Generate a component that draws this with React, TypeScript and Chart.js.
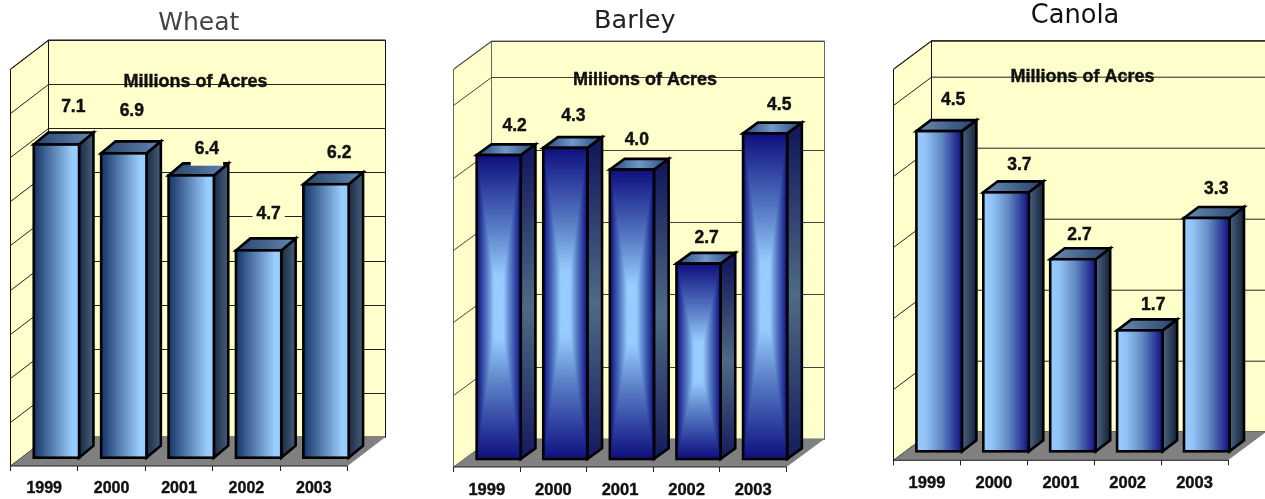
import React, { useEffect, useRef } from "react";
import { Chart, registerables } from "chart.js";

Chart.register(...registerables);

const years = ["1999", "2000", "2001", "2002", "2003"];
const wheatValues = [7.1, 6.9, 6.4, 4.7, 6.2];
const barleyValues = [4.2, 4.3, 4.0, 2.7, 4.5];
const canolaValues = [4.5, 3.64, 2.7, 1.7, 3.28];
const wheatLabels = ["7.1", "6.9", "6.4", "4.7", "6.2"];
const barleyLabels = ["4.2", "4.3", "4.0", "2.7", "4.5"];
const canolaLabels = ["4.5", "3.7", "2.7", "1.7", "3.3"];
const axisNote = "Millions of Acres";

// where each value label sits relative to the top centre of its bar
const wheatLabelShift = [[17.5, -39], [8.6, -43.7], [16.3, -28], [10.6, -37.4], [13.8, -32]];
const barleyLabelShift = [[15.9, -30.8], [8.1, -33.6], [4.9, -31], [8.1, -27.3], [14.1, -30.6]];
const canolaLabelShift = [[14.5, -32.7], [13.8, -29.6], [7, -26], [13.9, -27], [10, -30.7]];
// how far each label's wall-coloured box reaches below the text
const wheatBoxDrop = [10, 10, 18, 10, 10];
const plainBoxDrop = [10, 10, 10, 10, 10];

const FONT = '"Liberation Sans", Arial, sans-serif';
const WALL = "#FFFFCC";
const FLOOR = "#808080";

type Panel = {
  title: string; values: number[]; labels: string[]; shift: number[][]; boxDrop: number[]; yMax: number;
  canvasLeft: number; canvasWidth: number;
  plotLeft: number; plotRight: number; plotTop: number; plotBottom: number;
  depthX: number; depthY: number; barDX: number; barDY: number; barPct: number;
  barDepthX: number; barDepthY: number; labelDX: number; labelDY: number;
  titleX: number; titleBase: number; titleSize: number; titleColor: string;
  noteX: number; noteY: number; tickSize: number; tickPad: number;
  wallStroke: string; gridColor: string; style: "wheat" | "barley" | "canola";
};

const panels: Panel[] = [
  {
    title: "Wheat", values: wheatValues, labels: wheatLabels, shift: wheatLabelShift, boxDrop: wheatBoxDrop, yMax: 9,
    canvasLeft: 0, canvasWidth: 430,
    plotLeft: 10.5, plotRight: 347.5, plotTop: 69, plotBottom: 466,
    depthX: 38, depthY: 29, barDX: 12.2, barDY: 8.3, barPct: 0.672,
    barDepthX: 14.4, barDepthY: 12, labelDX: 11.6, labelDY: 8,
    titleX: 198.8, titleBase: 30, titleSize: 25, titleColor: "#444444",
    noteX: 195.5, noteY: 82, tickSize: 16, tickPad: 8,
    wallStroke: "#111111", gridColor: "#222222", style: "wheat",
  },
  {
    title: "Barley", values: barleyValues, labels: barleyLabels, shift: barleyLabelShift, boxDrop: plainBoxDrop, yMax: 5.5,
    canvasLeft: 430, canvasWidth: 430,
    plotLeft: 453.5, plotRight: 786.5, plotTop: 69, plotBottom: 467,
    depthX: 38, depthY: 28, barDX: 11.9, barDY: 8, barPct: 0.662,
    barDepthX: 14.7, barDepthY: 10.7, labelDX: 11.9, labelDY: 7,
    titleX: 634.8, titleBase: 28.3, titleSize: 25.5, titleColor: "#222222",
    noteX: 645, noteY: 80, tickSize: 16.5, tickPad: 9,
    wallStroke: "#666666", gridColor: "#444444", style: "barley",
  },
  {
    title: "Canola", values: canolaValues, labels: canolaLabels, shift: canolaLabelShift, boxDrop: plainBoxDrop, yMax: 5.5,
    canvasLeft: 860, canvasWidth: 405,
    plotLeft: 893.5, plotRight: 1228, plotTop: 69, plotBottom: 460.3,
    depthX: 38, depthY: 28.3, barDX: 12.2, barDY: 9, barPct: 0.68,
    barDepthX: 14.5, barDepthY: 11, labelDX: 11.7, labelDY: 8,
    titleX: 1075, titleBase: 22.7, titleSize: 25.7, titleColor: "#111111",
    noteX: 1082.5, noteY: 77.5, tickSize: 16.5, tickPad: 8,
    wallStroke: "#111111", gridColor: "#222222", style: "canola",
  },
];

function poly(ctx: CanvasRenderingContext2D, pts: number[][]) {
  ctx.beginPath();
  pts.forEach(([x, y], i) => (i ? ctx.lineTo(x, y) : ctx.moveTo(x, y)));
  ctx.closePath();
}

function linear(ctx: CanvasRenderingContext2D, x0: number, y0: number, x1: number, y1: number, stops: [number, string][]) {
  const g = ctx.createLinearGradient(x0, y0, x1, y1);
  stops.forEach(([o, c]) => g.addColorStop(o, c));
  return g;
}

const barleyRamp: [number, number[]][] = [
  [0, [16, 16, 127]],
  [0.22, [48, 66, 160]],
  [0.5, [92, 130, 200]],
  [0.8, [153, 204, 255]],
  [1, [153, 204, 255]],
];

function rampColor(t: number) {
  for (let i = 1; i < barleyRamp.length; i++) {
    const [t1, c1] = barleyRamp[i];
    const [t0, c0] = barleyRamp[i - 1];
    if (t <= t1) {
      const f = (t - t0) / (t1 - t0);
      return `rgb(${c0.map((v, k) => Math.round(v + (c1[k] - v) * f)).join(",")})`;
    }
  }
  return "rgb(153,204,255)";
}

function fillFront(ctx: CanvasRenderingContext2D, style: Panel["style"], l: number, r: number, t: number, b: number) {
  if (style === "wheat") {
    ctx.fillStyle = linear(ctx, l, 0, r, 0, [[0, "#153466"], [0.45, "#5C85B5"], [0.85, "#99CCFF"], [1, "#99CCFF"]]);
    ctx.fillRect(l, t, r - l, b - t);
  } else if (style === "canola") {
    ctx.fillStyle = linear(ctx, l, 0, r, 0, [[0, "#99CCFF"], [0.2, "#90C2F5"], [0.55, "#6289C4"], [1, "#10107F"]]);
    ctx.fillRect(l, t, r - l, b - t);
  } else {
    const cx = (l + r) / 2;
    const cy = (t + b) / 2;
    const steps = 80;
    for (let i = 0; i < steps; i++) {
      const s = 1 - i / steps;
      const hw = ((r - l) / 2) * s;
      const hh = ((b - t) / 2) * s;
      ctx.fillStyle = rampColor(i / (steps - 1));
      ctx.fillRect(cx - hw, cy - hh, hw * 2, hh * 2);
    }
  }
}

function sideFill(ctx: CanvasRenderingContext2D, p: Panel, r: number, t: number, b: number) {
  if (p.style === "wheat") return linear(ctx, r, 0, r + p.barDepthX, 0, [[0, "#1A2B45"], [1, "#465E78"]]);
  if (p.style === "canola") return linear(ctx, r, 0, r + p.barDepthX, 0, [[0, "#4A6580"], [1, "#16213A"]]);
  return linear(ctx, 0, t, 0, b, [[0, "#141A5C"], [0.5, "#4E6A84"], [1, "#141A5C"]]);
}

function topFill(ctx: CanvasRenderingContext2D, p: Panel, l: number, r: number) {
  const R = r + p.barDepthX;
  if (p.style === "wheat") return linear(ctx, l, 0, R, 0, [[0, "#27426A"], [1, "#6388B5"]]);
  if (p.style === "canola") return linear(ctx, l, 0, R, 0, [[0, "#6A8DB5"], [1, "#28406A"]]);
  return linear(ctx, l, 0, R, 0, [[0, "#27457A"], [0.5, "#7099C8"], [1, "#27457A"]]);
}

function makePlugin(p: Panel) {
  const ox = -p.canvasLeft;
  return {
    id: "scene3d",
    beforeDatasetsDraw(chart: any) {
      const ctx: CanvasRenderingContext2D = chart.ctx;
      const { left, right, top, bottom } = chart.chartArea;
      const dx = p.depthX;
      const dy = p.depthY;
      const yScale = chart.scales.y;

      ctx.save();
      ctx.lineWidth = 1;

      ctx.fillStyle = p.titleColor;
      ctx.font = `${p.titleSize}px "DejaVu Sans", sans-serif`;
      ctx.textAlign = "center";
      ctx.textBaseline = "alphabetic";
      ctx.fillText(p.title, p.titleX + ox, p.titleBase);

      ctx.strokeStyle = p.wallStroke;
      ctx.fillStyle = WALL;
      poly(ctx, [[left + dx, top - dy], [right + dx, top - dy], [right + dx, bottom - dy], [left + dx, bottom - dy]]);
      ctx.fill();
      ctx.stroke();
      poly(ctx, [[left, top], [left + dx, top - dy], [left + dx, bottom - dy], [left, bottom]]);
      ctx.fill();
      ctx.stroke();

      ctx.strokeStyle = p.gridColor;
      yScale.ticks.forEach((t: any) => {
        const y = Math.round(yScale.getPixelForValue(t.value)) + 0.5;
        ctx.beginPath();
        ctx.moveTo(left, y);
        ctx.lineTo(left + dx, y - dy);
        ctx.lineTo(right + dx, y - dy);
        ctx.stroke();
      });

      ctx.fillStyle = FLOOR;
      poly(ctx, [[left, bottom], [right, bottom], [right + dx, bottom - dy], [left + dx, bottom - dy]]);
      ctx.fill();
      ctx.strokeStyle = "#222222";
      ctx.beginPath();
      ctx.moveTo(left, bottom);
      ctx.lineTo(right, bottom);
      ctx.stroke();

      const meta = chart.getDatasetMeta(0);
      ctx.lineWidth = 2.6;
      ctx.lineJoin = "miter";
      ctx.strokeStyle = "#000000";
      meta.data.forEach((el: any) => {
        const { x, y, base, width } = el.getProps(["x", "y", "base", "width"], true);
        const l = x - width / 2 + p.barDX;
        const r = x + width / 2 + p.barDX;
        const t = y - p.barDY;
        const b = base - p.barDY;
        const ddx = p.barDepthX;
        const ddy = p.barDepthY;
        poly(ctx, [[r, t], [r + ddx, t - ddy], [r + ddx, b - ddy], [r, b]]);
        ctx.fillStyle = sideFill(ctx, p, r, t, b);
        ctx.fill();
        ctx.stroke();
        poly(ctx, [[l, t], [l + ddx, t - ddy], [r + ddx, t - ddy], [r, t]]);
        ctx.fillStyle = topFill(ctx, p, l, r);
        ctx.fill();
        ctx.stroke();
        fillFront(ctx, p.style, l, r, t, b);
        ctx.strokeRect(l, t, r - l, b - t);
      });
      ctx.restore();
    },
    afterDatasetsDraw(chart: any) {
      const ctx: CanvasRenderingContext2D = chart.ctx;
      ctx.save();
      const meta = chart.getDatasetMeta(0);
      ctx.textAlign = "center";
      ctx.textBaseline = "middle";
      ctx.font = `bold 17.5px ${FONT}`;
      ctx.lineWidth = 0.4;
      ctx.strokeStyle = "#111111";
      meta.data.forEach((el: any, i: number) => {
        const { x, y } = el.getProps(["x", "y"], true);
        const lx = x + p.labelDX + p.shift[i][0];
        const ly = y - p.labelDY + p.shift[i][1];
        const text = p.labels[i];
        const w = ctx.measureText(text).width + 8;
        ctx.fillStyle = WALL;
        ctx.fillRect(lx - w / 2, ly - 10, w, 10 + p.boxDrop[i]);
        ctx.fillStyle = "#111111";
        ctx.fillText(text, lx, ly + 1);
        ctx.strokeText(text, lx, ly + 1);
      });
      ctx.fillStyle = "#111111";
      ctx.font = `bold 18px ${FONT}`;
      ctx.fillText(axisNote, p.noteX + ox, p.noteY);
      ctx.strokeText(axisNote, p.noteX + ox, p.noteY);
      ctx.restore();
    },
  };
}

function Panel3D({ panel }: { panel: Panel }) {
  const ref = useRef<HTMLCanvasElement>(null);
  useEffect(() => {
    const height = 499;
    const chart = new Chart(ref.current as HTMLCanvasElement, {
      type: "bar",
      data: {
        labels: years,
        datasets: [
          {
            data: panel.values,
            backgroundColor: "rgba(0,0,0,0)",
            borderWidth: 0,
            barPercentage: panel.barPct,
            categoryPercentage: 1,
            clip: false,
          } as any,
        ],
      },
      options: {
        animation: false,
        responsive: false,
        devicePixelRatio: 1,
        layout: {
          padding: {
            left: panel.plotLeft - panel.canvasLeft,
            right: panel.canvasLeft + panel.canvasWidth - panel.plotRight,
            top: panel.plotTop,
            bottom: 0,
          },
        },
        plugins: { legend: { display: false }, tooltip: { enabled: false }, title: { display: false } },
        scales: {
          x: {
            offset: true,
            border: { display: false },
            grid: { display: true, drawOnChartArea: false, drawTicks: true, tickLength: 5, color: "#222222", offset: true },
            ticks: {
              autoSkip: false,
              maxRotation: 0,
              padding: panel.tickPad,
              color: "#111111",
              textStrokeColor: "#111111",
              textStrokeWidth: 0.4,
              font: { family: FONT, weight: "bold", size: panel.tickSize },
            },
            afterFit: (s: any) => {
              s.height = height - panel.plotBottom;
            },
          },
          y: {
            display: false,
            min: 0,
            max: panel.yMax,
            ticks: { stepSize: 1 },
          },
        },
      },
      plugins: [makePlugin(panel) as any],
    });
    return () => chart.destroy();
  }, [panel]);
  return (
    <canvas
      ref={ref}
      width={panel.canvasWidth}
      height={499}
      style={{ position: "absolute", left: panel.canvasLeft, top: 0, width: panel.canvasWidth, height: 499 }}
    />
  );
}

export default function App() {
  useEffect(() => {
    document.body.style.margin = "0";
    document.body.style.background = "#ffffff";
  }, []);
  return (
    <div style={{ position: "relative", width: 1265, height: 499, overflow: "hidden" }}>
      {panels.map((p) => (
        <Panel3D key={p.title} panel={p} />
      ))}
    </div>
  );
}
